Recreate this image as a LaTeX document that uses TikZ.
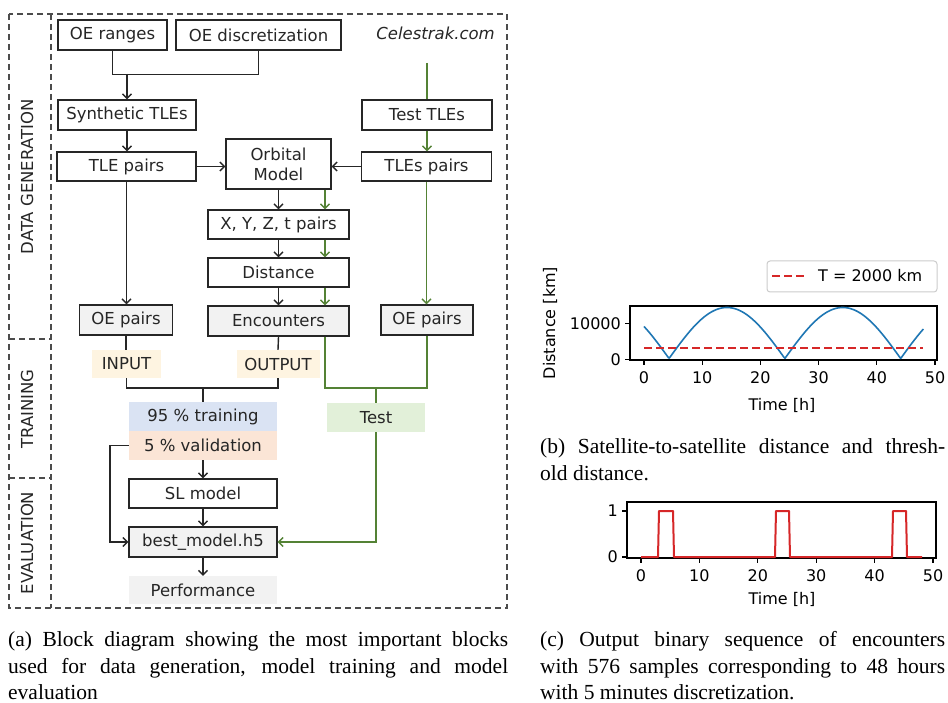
\documentclass[tikz,border=0pt]{standalone}
\usepackage{fontspec}
\setmainfont{DejaVu Sans}
\newfontfamily\capserif{Liberation Serif}
\usetikzlibrary{arrows.meta}
\definecolor{tgreen}{HTML}{548235}
\definecolor{boxgrey}{HTML}{F2F2F2}
\definecolor{inyellow}{HTML}{FEF4E1}
\definecolor{trblue}{HTML}{DAE3F3}
\definecolor{valorange}{HTML}{FBE5D6}
\definecolor{testgreen}{HTML}{E2F0D9}
\definecolor{mplblue}{HTML}{1F77B4}
\definecolor{mplred}{HTML}{D62728}
\definecolor{ink}{HTML}{262626}
\newcommand\dgfont{\fontsize{16.5}{20}\selectfont}
\newcommand\plfont{\fontsize{16}{19}\selectfont}
\newcommand\cpfont{\capserif\fontsize{21.5}{27}\selectfont}
\tikzset{
  blk/.style={draw=ink, line width=1.4pt, inner sep=0pt, font=\dgfont, text=ink, align=center},
  gblk/.style={blk, fill=boxgrey},
  tag/.style={inner sep=0pt, font=\dgfont, text=ink, align=center},
  conn/.style={line width=1.4pt, draw=ink},
  gconn/.style={line width=1.4pt, draw=tgreen},
  arr/.style={-{Straight Barb[length=4.5pt,width=9pt]}},
  frame/.style={draw=black!70, line width=1.2pt, dash pattern=on 6pt off 4pt},
  sidelab/.style={rotate=90, inner sep=0pt, font=\dgfont, text=ink},
  tick/.style={line width=1.1pt, draw=black},
  ticklab/.style={inner sep=0pt, font=\plfont},
  capline/.style={inner sep=0pt, anchor=base west, font=\cpfont}
}
\begin{document}
\begin{tikzpicture}[x=1pt,y=1pt]
\useasboundingbox (0,0) rectangle (948,-703);
\fill[white] (0,0) rectangle (948,-703);

% ---------- frame ----------
\draw[frame] (9,-14) rectangle (507,-608);
\draw[frame] (51,-14) -- (51,-608);
\draw[frame] (9,-339) -- (51,-339);
\draw[frame] (9,-478) -- (51,-478);
\node[sidelab] (lgen) at (27,-177) {DATA GENERATION};
\node[sidelab] (ltrain) at (27,-409) {TRAINING};
\node[sidelab] (leval) at (27,-543) {EVALUATION};

% ---------- blocks ----------
\node[blk, minimum width=109pt, minimum height=30pt] (oer) at (112.5,-35) {OE ranges};
\node[blk, minimum width=165pt, minimum height=30pt] (oed) at (258.5,-35) {OE discretization};
\node[tag, anchor=east, font=\dgfont\itshape] (cel) at (495,-33) {Celestrak.com};
\node[blk, minimum width=138pt, minimum height=30pt] (syn) at (127,-115) {Synthetic TLEs};
\node[blk, minimum width=130pt, minimum height=30pt] (ttle) at (427,-115) {Test TLEs};
\node[blk, minimum width=139pt, minimum height=29pt] (tlep) at (126.5,-166.5) {TLE pairs};
\node[blk, minimum width=105pt, minimum height=50pt] (orb) at (278.5,-164) {Orbital\\Model};
\node[blk, minimum width=130pt, minimum height=29pt] (tlesp) at (426.5,-166.5) {TLEs pairs};
\node[blk, minimum width=141pt, minimum height=29pt] (xyz) at (278.5,-224.5) {X, Y, Z, t pairs};
\node[blk, minimum width=141pt, minimum height=29pt] (dist) at (278.5,-272.5) {Distance};
\node[gblk, minimum width=141pt, minimum height=30pt] (enc) at (278.5,-321) {Encounters};
\node[gblk, minimum width=93pt, minimum height=30pt] (oep1) at (126,-320) {OE pairs};
\node[gblk, minimum width=92pt, minimum height=30pt] (oep2) at (427,-320) {OE pairs};
\node[tag, fill=inyellow, minimum width=69pt, minimum height=28pt] (inp) at (126.5,-364) {INPUT};
\node[tag, fill=inyellow, minimum width=83pt, minimum height=28pt] (outp) at (278,-364) {OUTPUT};
\node[tag, fill=trblue, minimum width=148pt, minimum height=29pt] (tr) at (203,-416.5) {95 \% training};
\node[tag, fill=valorange, minimum width=148pt, minimum height=29pt] (val) at (203,-445.5) {5 \% validation};
\node[tag, fill=testgreen, minimum width=98pt, minimum height=29pt] (test) at (376,-417.5) {Test};
\node[blk, minimum width=148pt, minimum height=29pt] (sl) at (203,-493.5) {SL model};
\node[gblk, minimum width=148pt, minimum height=30pt] (best) at (203,-542) {best\_model.h5};
\node[tag, fill=boxgrey, minimum width=148pt, minimum height=28pt] (perf) at (203,-590) {Performance};

% ---------- connectors ----------
\coordinate (m1) at (127,-74);
\coordinate (c1) at (427,-63);
\coordinate (j2) at (203,-388);
\coordinate (j3) at (376,-388);
\draw[conn] (oer.south) -- ++(0,-24) -| (oed.south);
\draw[conn,arr] (m1) -- (syn.north);
\draw[conn,arr] (syn.south) -- (syn.south |- tlep.north);
\draw[conn,arr] (tlep.east) -- (tlep.east -| orb.west);
\draw[conn,arr] (tlesp.west) -- (tlesp.west -| orb.east);
\draw[gconn] (c1) -- (ttle.north);
\draw[gconn,arr] (ttle.south) -- (ttle.south |- tlesp.north);
\draw[conn,arr] (orb.south) -- (xyz.north);
\draw[gconn,arr] ([xshift=46.5pt]orb.south) -- ([xshift=46.5pt]xyz.north);
\draw[conn,arr] (xyz.south) -- (dist.north);
\draw[gconn,arr] ([xshift=46.5pt]xyz.south) -- ([xshift=46.5pt]dist.north);
\draw[conn,arr] (dist.south) -- (enc.north);
\draw[gconn,arr] ([xshift=46.5pt]dist.south) -- ([xshift=46.5pt]enc.north);
\draw[conn,arr] (tlep.south) -- (tlep.south |- oep1.north);
\draw[gconn,arr] (tlesp.south) -- (tlesp.south |- oep2.north);
% training data merge
\draw[conn] (oep1.south) -- (oep1.south |- inp.north);
\draw[conn] (inp.south) |- (j2) -| (outp.south);
\draw[conn] (outp.north) -- (enc.south);
\draw[conn] (j2) -- (tr.north);
% test data merge
\draw[gconn] ([xshift=46.5pt]enc.south) |- (j3) -| (oep2.south);
\draw[gconn] (j3) -- (test.north);
% training / evaluation
\draw[conn,arr] (val.south) -- (sl.north);
\draw[conn,arr] (sl.south) -- (best.north);
\draw[conn,arr] (best.south) -- (perf.north);
\draw[conn,arr] (val.west) -- ++(-19,0) |- (best.west);
\draw[gconn,arr] (test.south) |- (best.east);

% ---------- plot (b) ----------
\draw[line width=1.1pt] (630,-306) rectangle (937,-360);
\foreach \t in {0,10,20,30,40,50}{
  \draw[tick] ({644+5.82*\t},-360) -- ({644+5.82*\t},-365);
  \node[ticklab] at ({644+5.82*\t},-378) {\t};
}
\draw[tick] (630,-323.3) -- (625,-323.3);
\draw[tick] (630,-359.3) -- (625,-359.3);
\node[ticklab, anchor=east] at (621,-323.3) {10000};
\node[ticklab, anchor=east] at (621,-359.3) {0};
\node[ticklab] at (782,-405) {Time [h]};
\node[ticklab, rotate=90] at (550,-323) {Distance [km]};
\draw[mplblue, line width=1.6pt, line join=round]
  plot[domain=0:48, samples=320] ({644+5.82*\x}, {-358.5+51*abs(sin(9.045*(\x-4.3)))});
\draw[mplred, line width=2pt, dash pattern=on 8pt off 4pt] (644,-348) -- (923,-348);
\draw[black!20, line width=1pt, rounded corners=3pt] (767,-261) rectangle (937,-292);
\draw[mplred, line width=2pt, dash pattern=on 8pt off 4pt] (772,-276) -- (806,-276);
\node[ticklab, anchor=west] at (818,-276) {T = 2000 km};
\node[capline] at (540,-453) {\makebox[405pt][s]{(b) Satellite-to-satellite distance and thresh-}};
\node[capline] at (540,-480) {old distance.};

% ---------- plot (c) ----------
\draw[line width=1.1pt] (627,-502) rectangle (936,-558);
\foreach \t in {0,10,20,30,40,50}{
  \draw[tick] ({641+5.84*\t},-558) -- ({641+5.84*\t},-563);
  \node[ticklab] at ({641+5.84*\t},-576) {\t};
}
\draw[tick] (627,-511) -- (622,-511);
\draw[tick] (627,-557) -- (622,-557);
\node[ticklab, anchor=east] at (618,-511) {1};
\node[ticklab, anchor=east] at (618,-557) {0};
\node[ticklab] at (782,-599) {Time [h]};
\draw[mplred, line width=2pt, line join=round]
  (641,-557) -- (658,-557) -- (659,-511) -- (673,-511) -- (674,-557)
  -- (775,-557) -- (776,-511) -- (789,-511) -- (790,-557)
  -- (892,-557) -- (893,-511) -- (906,-511) -- (907,-557) -- (922,-557);
\node[capline] at (540,-646) {\makebox[405pt][s]{(c) Output binary sequence of encounters}};
\node[capline] at (540,-673) {\makebox[405pt][s]{with 576 samples corresponding to 48 hours}};
\node[capline] at (540,-699) {with 5 minutes discretization.};

% ---------- caption (a) ----------
\node[capline] at (8,-646) {\makebox[500pt][s]{(a) Block diagram showing the most important blocks}};
\node[capline] at (8,-673) {\makebox[500pt][s]{used for data generation, model training and model}};
\node[capline] at (8,-699) {evaluation};
\end{tikzpicture}
\end{document}
